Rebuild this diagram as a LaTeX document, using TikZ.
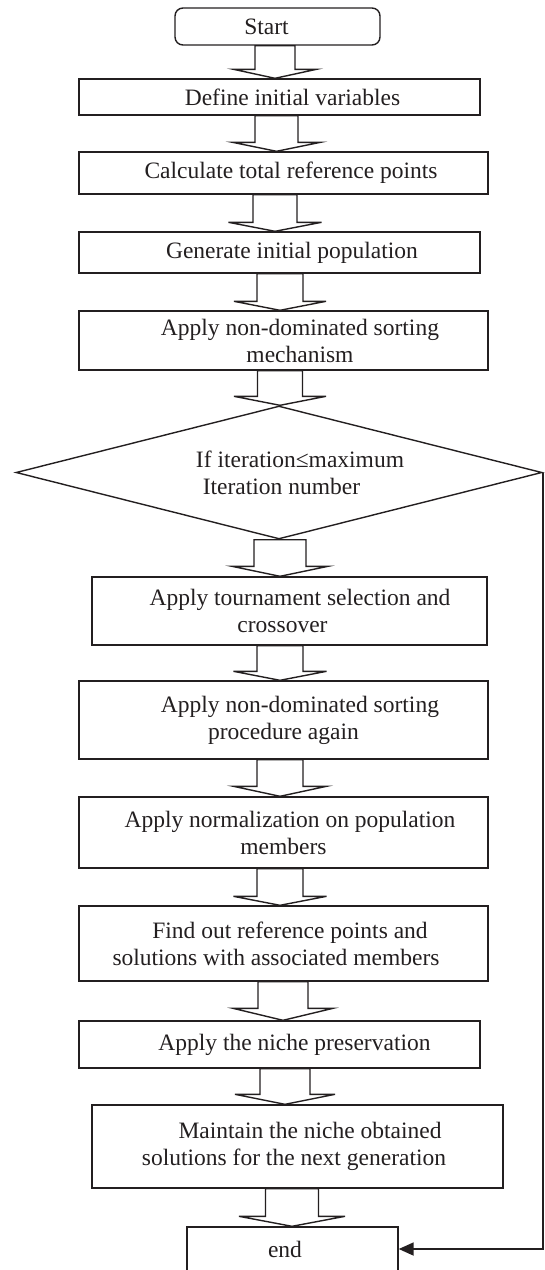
\documentclass[tikz,border=0pt]{standalone}
\usepackage{fontspec}
\setmainfont{Liberation Serif}
\usetikzlibrary{shapes.geometric,arrows.meta,calc}
\definecolor{ink}{HTML}{231F20}
\tikzset{
  box/.style={draw=ink, line width=1.4pt, rectangle, inner sep=0pt, align=center,
    text=ink, font=\fontsize{23.5}{27}\selectfont},
  flowarrow/.style={draw=ink, line width=1.4pt, line join=miter},
  conn/.style={draw=ink, line width=1.8pt, line join=miter, -{Triangle[length=15pt,width=13pt]}},
}
% #1 from node, #2 to node, #3 axis x, #4 shaft half width, #5 head half width, #6 head length
\newcommand{\blockarrow}[6]{%
  \draw[flowarrow] let \p1=(#1.south), \p2=(#2.north) in
    ({#3pt-#4pt},\y1) -- ({#3pt-#4pt},{\y2+#6pt}) -- ({#3pt-#5pt},{\y2+#6pt})
    -- ({#3pt},\y2) -- ({#3pt+#5pt},{\y2+#6pt}) -- ({#3pt+#4pt},{\y2+#6pt})
    -- ({#3pt+#4pt},\y1) -- cycle;}
\begin{document}
\begin{tikzpicture}[x=1pt,y=-1pt]
\useasboundingbox (0,0) rectangle (545,1270);

\node[box, rounded corners=8pt, minimum width=205pt, minimum height=37pt] (start) at (277.5,26.5) {Start\hspace*{22pt}};
\node[box, minimum width=401pt, minimum height=36pt] (b2) at (279.5,97) {\hspace*{26pt}Define initial variables};
\node[box, minimum width=409pt, minimum height=42pt] (b3) at (283.5,173) {\hspace*{15pt}Calculate total reference points};
\node[box, minimum width=401pt, minimum height=41pt] (b4) at (279.5,252.5) {\hspace*{25pt}Generate initial population};
\node[box, minimum width=409pt, minimum height=59pt] (b5) at (283.5,340.5) {\hspace*{33pt}Apply non-dominated sorting\\\hspace*{33pt}mechanism};
\node[box, diamond, shape aspect=3.95, minimum width=526pt, minimum height=133pt] (cond) at (279,472.5) {\hspace*{42pt}If iteration≤maximum\\\hspace*{5pt}Iteration number};
\node[box, minimum width=395pt, minimum height=68pt] (b6) at (289.5,611) {\hspace*{21pt}Apply tournament selection and\\crossover\hspace*{14pt}};
\node[box, minimum width=409pt, minimum height=78pt] (b7) at (283.5,720) {\hspace*{33pt}Apply non-dominated sorting\\procedure again};
\node[box, minimum width=409pt, minimum height=71pt] (b8) at (283.5,832.5) {\hspace*{13pt}Apply normalization on population\\members};
\node[box, minimum width=409pt, minimum height=75pt] (b9) at (283.5,943.5) {\hspace*{13pt}Find out reference points and\\solutions with associated members\hspace*{15pt}};
\node[box, minimum width=401pt, minimum height=47pt] (b10) at (279.5,1044.5) {\hspace*{30pt}Apply the niche preservation};
\node[box, minimum width=411pt, minimum height=83pt] (b11) at (297.5,1146.5) {\hspace*{25pt}Maintain the niche obtained\\solutions for the next generation\hspace*{7pt}};
\node[box, minimum width=211pt, minimum height=44pt] (endb) at (292.5,1249) {end\hspace*{15pt}};

\blockarrow{start}{b2}{275}{20}{41.5}{9}
\blockarrow{b2}{b3}{276.5}{21.5}{44}{9}
\blockarrow{b3}{b4}{275}{22}{46.5}{9}
\blockarrow{b4}{b5}{280}{23}{46}{9}
\blockarrow{b5}{cond}{280}{22.5}{46}{9}
\blockarrow{cond}{b6}{280}{26}{48}{10}
\blockarrow{b6}{b7}{280}{23}{46.5}{9}
\blockarrow{b7}{b8}{280}{23}{46.5}{10}
\blockarrow{b8}{b9}{280}{23}{46.5}{9}
\blockarrow{b9}{b10}{283}{25}{50}{12}
\blockarrow{b10}{b11}{285}{25}{50}{10}
\blockarrow{b11}{endb}{292}{26.5}{53}{10}

\draw[conn] (cond.east) -- (cond.east |- endb.east) -- (endb.east);
\end{tikzpicture}
\end{document}
